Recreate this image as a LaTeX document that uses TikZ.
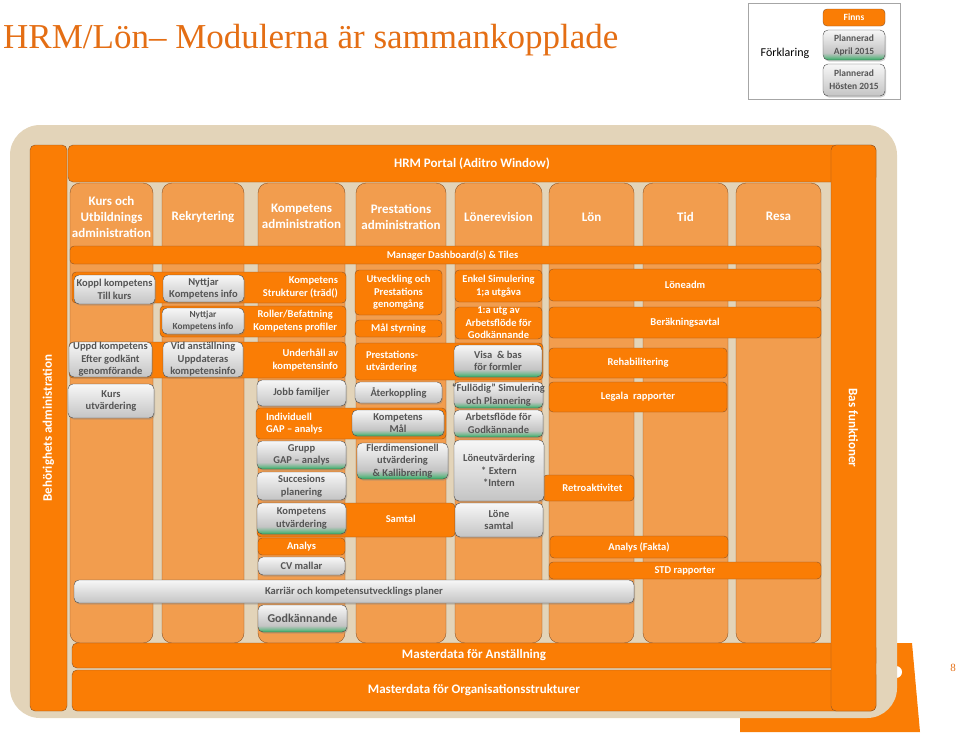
\documentclass[tikz,border=0pt]{standalone}
\usepackage{fontspec}
\setmainfont{Carlito}
\newfontfamily\titlefont{Liberation Serif}
\usepackage{tikz}
\usetikzlibrary{positioning,fit,shadows,calc}

\definecolor{dorange}{RGB}{250,125,5}
\definecolor{lorange}{RGB}{242,157,78}
\definecolor{beige}{RGB}{227,212,185}
\definecolor{obrd}{RGB}{140,85,40}
\definecolor{titleor}{RGB}{228,110,20}
\definecolor{gtop}{RGB}{247,247,247}
\definecolor{gbot}{RGB}{196,196,196}
\definecolor{ggreen}{RGB}{50,175,100}
\definecolor{gtxt}{RGB}{85,85,85}

\pgfdeclareverticalshading{greyshade}{100bp}{color(0bp)=(gbot); color(25bp)=(gbot); color(75bp)=(gtop); color(100bp)=(gtop)}
\pgfdeclareverticalshading{greenshade}{100bp}{color(0bp)=(ggreen); color(25bp)=(ggreen); color(31bp)=(ggreen!45!gbot); color(37bp)=(gbot); color(75bp)=(gtop); color(100bp)=(gtop)}

\begin{document}
\begin{tikzpicture}[x=1pt,y=-1pt,
  every node/.style={font=\bfseries\fontsize{10.5}{12.5}\selectfont, align=center, inner sep=0pt},
  obox/.style={draw=obrd, fill=dorange, rounded corners=4pt},
  gbox/.style={draw=gray!60!black, rounded corners=5pt, shade, shading=greyshade,
    drop shadow={opacity=.35, shadow xshift=1pt, shadow yshift=-1.5pt}},
  grbox/.style={gbox, shading=greenshade},
  col/.style={draw=obrd, fill=lorange, rounded corners=10pt},
  head/.style={text=white, font=\bfseries\fontsize{13}{16}\selectfont},
  otxt/.style={text=white},
  gtext/.style={text=gtxt},
  big/.style={font=\bfseries\fontsize{13}{15}\selectfont}
]
\useasboundingbox (0,0) rectangle (960,732);

% title and legend
\node[anchor=west, text=titleor, font=\titlefont\fontsize{35}{38}\selectfont] (title) at (3,40) {HRM/Lön– Modulerna är sammankopplade};
\node[draw=gray!70, fill=white, fit={(748,3) (900,99)}] (legend) {};
\node[font=\fontsize{12}{14}\selectfont] (forkl) at (785,53) {Förklaring};
\node[obox, fit={(823,9) (885,26)}] (finns) {};
\node[otxt, font=\bfseries\fontsize{9.5}{11}\selectfont] at (finns) {Finns};
\node[grbox, fit={(823,30) (885,60)}] (april) {};
\node[gtext, font=\bfseries\fontsize{9.5}{13}\selectfont] at (april) {Plannerad\\April 2015};
\node[gbox, fit={(823,64) (885,96)}] (hosten) {};
\node[gtext, font=\bfseries\fontsize{9.5}{13}\selectfont] at (hosten) {Plannerad\\Hösten 2015};

% background
\fill[dorange] (740,690) -- (880,643) -- (912,643) -- (920,732) -- (740,732) -- cycle;
\fill[white] (896,672) circle (6);
\fill[beige, rounded corners=30pt] (10,125) rectangle (897,718);

\node[obox, rounded corners=5pt, fit={(30,145) (67,711)}] (behor) {};
\node[otxt, big, rotate=90] at (behor) {Behörighets administration};
\node[obox, rounded corners=5pt, fit={(68,145) (876,182)}] (portal) {};
\node[otxt, big] at (portal) {HRM Portal (Aditro Window)};

% columns
\foreach \nm/\xa/\xb/\txt in {
  kurs/70/153/{Kurs och\\Utbildnings\\administration},
  rekr/162/244/Rekrytering,
  komp/258/345/{Kompetens\\administration},
  prest/356/446/{Prestations\\administration},
  lrev/455/542/Lönerevision,
  lon/549/634/Lön,
  tid/643/728/Tid,
  resa/736/821/Resa}{
  \node[col, fit={(\xa,183) (\xb,643)}] (\nm) {};
  \node[head] (\nm-h) at ([yshift=-34pt]\nm.north) {\txt};
}

\node[obox, fit={(70,246) (821,264)}] (mgr) {};
\node[otxt] at ([xshift=7pt]mgr.center) {Manager Dashboard(s) \& Tiles};

% kompetens rows
\node[obox, fit={(72,272) (346,303)}] (kstr) {};
\node[otxt, anchor=east, align=right] at ([xshift=-8pt]kstr.east) {Kompetens\\Strukturer (träd()};
\node[gbox, fit={(74,275) (155,304)}] (koppl) {};
\node[gtext] at (koppl) {Koppl kompetens\\Till kurs};
\node[gbox, fit={(163,275) (244,302)}] (nytt1) {};
\node[gtext] at (nytt1) {Nyttjar\\Kompetens info};

\node[obox, fit={(160,306) (346,337)}] (roller) {};
\node[gbox, fit={(162,308) (244,334)}] (nytt2) {};
\node[gtext, font=\bfseries\fontsize{9.3}{11.5}\selectfont] at (nytt2) {Nyttjar\\Kompetens info};
\node[otxt] at ($(nytt2.east)!.5!(roller.east)$) {Roller/Befattning\\Kompetens profiler};

\node[obox, fit={(69,342) (346,378)}] (underh) {};
\node[otxt, anchor=east, align=right] at ([xshift=-8pt]underh.east) {Underhåll av\\kompetensinfo};
\node[gbox, fit={(69,342) (152,377)}] (uppd) {};
\node[gtext] at (uppd) {Uppd kompetens\\Efter godkänt\\genomförande};
\node[gbox, fit={(163,342) (243,377)}] (vidanst) {};
\node[gtext] at (vidanst) {Vid anställning\\Uppdateras\\kompetensinfo};
\node[gbox, fit={(68,384) (154,418)}] (kursutv) {};
\node[gtext] at (kursutv) {Kurs\\utvärdering};

\node[gbox, fit={(257,380) (346,406)}] (jobb) {};
\node[gtext] at (jobb) {Jobb familjer};
\node[obox, fit={(256,408) (446,439)}] (gapind) {};
\node[otxt, anchor=west, align=left] at ([xshift=10pt]gapind.west) {Individuell\\GAP -- analys};
\node[grbox, fit={(352,410) (444,436)}] (kmal) {};
\node[gtext] at (kmal) {Kompetens\\Mål};
\node[grbox, fit={(257,441) (346,469)}] (gapgr) {};
\node[gtext] at (gapgr) {Grupp\\GAP -- analys};
\node[gbox, fit={(257,472) (346,500)}] (succ) {};
\node[gtext] at (succ) {Succesions\\planering};
\node[obox, fit={(257,503) (455,537)}] (samtal) {};
\node[grbox, fit={(257,503) (346,534)}] (kutv) {};
\node[gtext] at (kutv) {Kompetens\\utvärdering};
\node[otxt] at ($(kutv.east)!.5!(samtal.east)$) {Samtal};
\node[obox, fit={(258,538) (345,555)}] (analys) {};
\node[otxt] at (analys) {Analys};
\node[gbox, fit={(258,557) (345,575)}] (cv) {};
\node[gtext] at (cv) {CV mallar};
\node[gbox, fit={(74,580) (634,603)}] (karr) {};
\node[gtext] at (karr) {Karriär och kompetensutvecklings planer};
\node[grbox, fit={(258,605) (347,632)}] (godk) {};
\node[gtext, font=\bfseries\fontsize{12}{14}\selectfont] at (godk) {Godkännande};

% prestations
\node[obox, fit={(355,270) (442,315)}] (utv) {};
\node[otxt] at (utv) {Utveckling och\\Prestations\\genomgång};
\node[obox, fit={(355,320) (442,337)}] (malst) {};
\node[otxt] at (malst) {Mål styrning};
\node[obox, fit={(355,343) (543,380)}] (prutv) {};
\node[otxt, anchor=west, align=left] at ([xshift=11pt]prutv.west) {Prestations-\\utvärdering};
\node[grbox, fit={(454,345) (542,377)}] (visa) {};
\node[gtext] at (visa) {Visa \ \& bas\\för formler};
\node[gbox, fit={(355,382) (442,403)}] (aterk) {};
\node[gtext] at (aterk) {Återkoppling};
\node[grbox, fit={(454,382) (543,408)}] (fullod) {};
\node[gtext] at (fullod) {“Fullödig” Simulering\\och Plannering};
\node[grbox, fit={(454,410) (543,437)}] (arbfl) {};
\node[gtext] at (arbfl) {Arbetsflöde för\\Godkännande};
\node[grbox, fit={(357,443) (448,479)}] (flerd) {};
\node[gtext] at (flerd) {Flerdimensionell\\utvärdering\\\& Kallibrering};
\node[obox, fit={(543,475) (634,501)}] (retro) {};
\node[otxt] at ([xshift=4pt]retro.center) {Retroaktivitet};
\node[gbox, fit={(454,440) (544,501)}] (loneutv) {};
\node[gtext] at (loneutv) {Löneutvärdering\\* Extern\\*Intern};
\node[gbox, fit={(455,503) (543,537)}] (lonesamt) {};
\node[gtext] at (lonesamt) {Löne\\samtal};

% lönerevision
\node[obox, fit={(455,270) (542,302)}] (enkel) {};
\node[otxt] at (enkel) {Enkel Simulering\\1;a utgåva};
\node[obox, fit={(455,307) (542,339)}] (arbfl1) {};
\node[otxt] at (arbfl1) {1:a utg av\\Arbetsflöde för\\Godkännande};

% lön, tid, resa
\node[obox, fit={(549,269) (821,301)}] (loneadm) {};
\node[otxt] at (loneadm) {Löneadm};
\node[obox, fit={(549,307) (821,338)}] (berakn) {};
\node[otxt] at (berakn) {Beräkningsavtal};
\node[obox, fit={(549,348) (727,378)}] (rehab) {};
\node[otxt] at (rehab) {Rehabilitering};
\node[obox, fit={(549,382) (727,412)}] (legala) {};
\node[otxt] at (legala) {Legala\ \ rapporter};
\node[obox, fit={(550,536) (728,558)}] (analysf) {};
\node[otxt] at (analysf) {Analys (Fakta)};
\node[obox, fit={(549,562) (821,579)}] (std) {};
\node[otxt] at (std) {STD rapporter};

% masterdata and bas
\node[obox, rounded corners=5pt, fit={(72,643) (876,668)}] (mdanst) {};
\node[otxt, big] at (mdanst) {Masterdata för Anställning};
\node[obox, rounded corners=5pt, fit={(72,670) (876,711)}] (mdorg) {};
\node[otxt, big] at (mdorg) {Masterdata för Organisationsstrukturer};
\node[obox, rounded corners=5pt, fit={(831,145) (876,711)}] (bas) {};
\node[otxt, big, rotate=-90] at (bas) {Bas funktioner};

\node[text=titleor, font=\titlefont\fontsize{11}{12}\selectfont] (pnum) at (953,668) {8};
\end{tikzpicture}
\end{document}
